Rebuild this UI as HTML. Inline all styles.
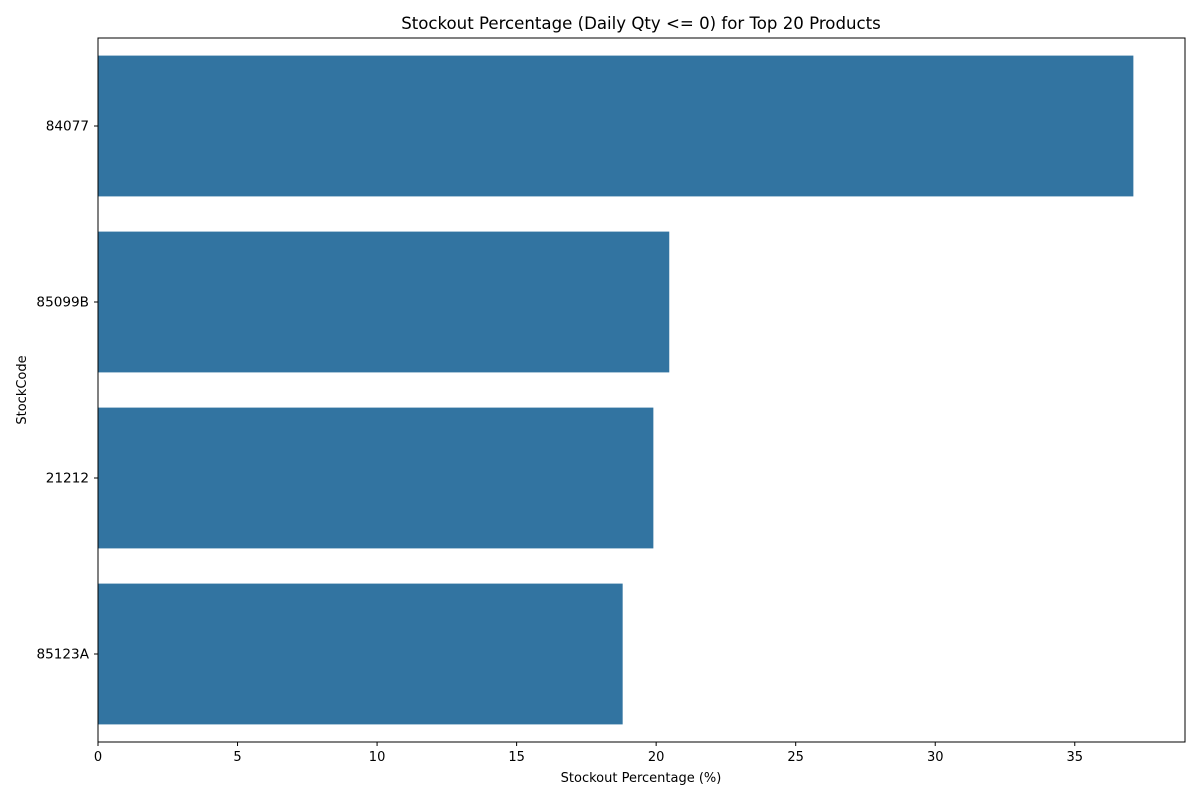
<!DOCTYPE html>
<html><head><meta charset="utf-8"><style>
body{margin:0;background:#fff;font-family:"Liberation Sans","DejaVu Sans",sans-serif}
</style></head><body>
<svg id="chart" width="1200" height="800" xmlns="http://www.w3.org/2000/svg">
<text x="641" y="29" font-size="16.6" text-anchor="middle" font-family="DejaVu Sans, sans-serif">Stockout Percentage (Daily Qty &lt;= 0) for Top 20 Products</text>
<g id="bars"></g><g id="xticks"></g><g id="yticks"></g>
<rect x="98" y="38" width="1087" height="704" fill="none" stroke="#000" stroke-width="1"/>
<text x="641" y="782" font-size="13" text-anchor="middle" font-family="DejaVu Sans, sans-serif">Stockout Percentage (%)</text>
<text x="26" y="390" font-size="13" text-anchor="middle" font-family="DejaVu Sans, sans-serif" transform="rotate(-90 26 390)">StockCode</text>
</svg>
<script>
const categories=["84077","85099B","21212","85123A"];
const values=[37.1,20.47,19.9,18.8];
const xTicks=[0,5,10,15,20,25,30,35];
const L=98,R=1185,T=38,B=742,xMax=38.95;
const NS="http://www.w3.org/2000/svg";
const x=v=>L+v/xMax*(R-L);
const band=(B-T)/categories.length;
const yc=i=>T+band*(i+0.5);
const bars=document.getElementById('bars'),xt=document.getElementById('xticks'),yt=document.getElementById('yticks');
function mk(t,a){const e=document.createElementNS(NS,t);for(const k in a)e.setAttribute(k,a[k]);return e;}
categories.forEach((c,i)=>{
 const r=mk('rect',{x:L,y:yc(i)-band*0.4,width:x(values[i])-L,height:band*0.8,fill:'#3274a1'});
 
 
 bars.appendChild(r);
 const tk=mk('line',{x1:L-4,x2:L,y1:yc(i),y2:yc(i),stroke:'#000'});
 
 
 yt.appendChild(tk);
 const tx=mk('text',{x:L-9,y:yc(i)+4.5,'font-size':13.6,'text-anchor':'end','font-family':'DejaVu Sans, sans-serif'});
 tx.textContent=c;
 
 
 yt.appendChild(tx);
});
xTicks.forEach(v=>{
 const tk=mk('line',{x1:x(v),x2:x(v),y1:B,y2:B+4,stroke:'#000'});
 
 
 xt.appendChild(tk);
 const tx=mk('text',{x:x(v),y:B+19,'font-size':13,'text-anchor':'middle','font-family':'DejaVu Sans, sans-serif'});
 tx.textContent=v;
 
 
 xt.appendChild(tx);
});
</script>
</body></html>
